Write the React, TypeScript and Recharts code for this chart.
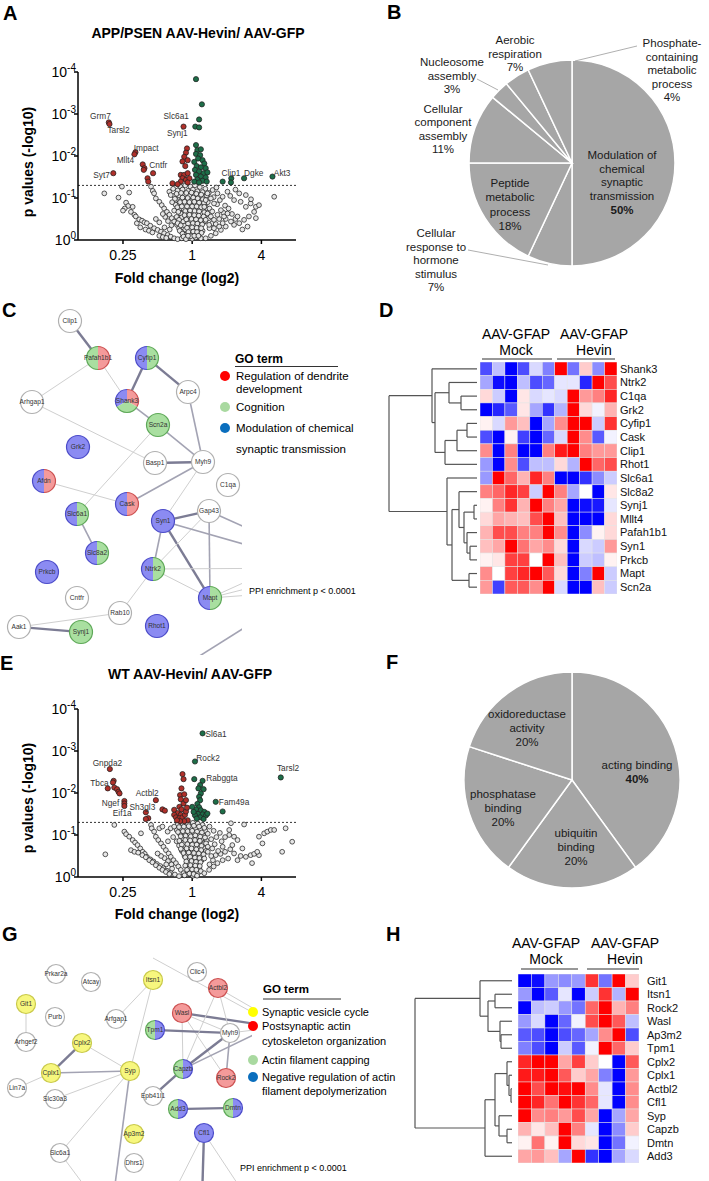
import React from "react";
import { ScatterChart, Scatter, XAxis, YAxis, ReferenceLine, PieChart, Pie, Cell } from "recharts";

const FONT = "'Liberation Sans', Arial, Helvetica, sans-serif";

// ---------- volcano plots (x = log2 fold change, y = -log10 p) ----------
const FC_TICKS = [-2, 0, 2];
const FC_TICK_LABELS = ["0.25", "1", "4"];
const P_TICKS = [0, 1, 2, 3, 4];
const P_THRESHOLD = 1.3;

const A_GRAY = [
  [-2.54, 1.11], [-2.03, 1.27], [-2.13, 1.01], [-1.82, 1.13], [-1.91, 0.89], [-1.85, 0.81], [-1.72, 0.79], [-1.77, 0.67],
  [-1.67, 0.6], [-1.63, 0.56], [-1.6, 0.4], [-1.53, 0.49], [-1.45, 0.46], [-1.38, 0.42], [-1.31, 0.4], [-1.21, 0.34],
  [-1.1, 0.28], [-1.0, 0.24], [-0.9, 0.2], [-0.81, 0.16], [-0.71, 0.12], [-0.62, 0.08], [-0.52, 0.04], [-0.42, 0.02],
  [-1.19, 1.27], [-1.14, 1.17], [-1.1, 1.11], [-1.05, 0.99], [-0.95, 0.91], [-0.88, 0.83], [-0.81, 0.75], [-0.73, 0.67],
  [-0.66, 0.6], [-0.59, 0.52], [-0.52, 0.44], [-0.44, 0.36], [-0.38, 0.28], [-0.31, 0.2], [-0.23, 0.12], [-0.15, 0.06],
  [-0.66, 1.15], [-0.52, 1.05], [-0.62, 1.07], [-0.47, 0.95], [-0.4, 0.86], [-0.35, 0.75], [-0.28, 0.65], [-0.23, 0.56],
  [-0.18, 0.44], [-0.13, 0.32], [-0.09, 0.2], [-1.5, 0.3], [-1.35, 0.25], [-1.25, 0.22], [-1.15, 0.18], [-0.95, 0.1],
  [-0.85, 0.07], [-0.75, 0.05], [-1.95, 0.75], [-2.0, 0.7],
  [-0.35, 1.28], [-0.2, 1.3], [-0.05, 1.27], [0.08, 1.3], [0.22, 1.26], [0.38, 1.22],
  [-0.42, 1.18], [-0.28, 1.2], [-0.12, 1.17], [0.02, 1.2], [0.15, 1.16], [0.3, 1.14], [0.48, 1.12],
  [-0.38, 1.06], [-0.22, 1.08], [-0.08, 1.05], [0.06, 1.08], [0.2, 1.04], [0.35, 1.02],
  [-0.3, 0.96], [-0.15, 0.97], [0.0, 0.95], [0.12, 0.97], [0.27, 0.93], [0.45, 0.9],
  [-0.48, 0.84], [-0.2, 0.86], [-0.06, 0.85], [0.08, 0.86], [0.22, 0.84], [0.36, 0.82],
  [-0.25, 0.74], [-0.1, 0.76], [0.03, 0.74], [0.16, 0.76], [0.3, 0.72],
  [-0.33, 0.63], [-0.16, 0.66], [-0.02, 0.64], [0.1, 0.66], [0.24, 0.63], [0.4, 0.6],
  [-0.3, 0.54], [-0.12, 0.55], [0.0, 0.56], [0.14, 0.54], [0.28, 0.52],
  [-0.26, 0.44], [-0.07, 0.46], [0.06, 0.44], [0.2, 0.45], [0.33, 0.42],
  [-0.22, 0.34], [-0.04, 0.35], [0.1, 0.34], [0.24, 0.33],
  [-0.2, 0.25], [-0.06, 0.24], [0.05, 0.26], [0.16, 0.24], [0.3, 0.22],
  [-0.14, 0.15], [-0.02, 0.14], [0.08, 0.16], [0.2, 0.13],
  [-0.08, 0.05], [0.0, 0.03], [0.1, 0.06], [0.25, 0.04], [-0.3, 0.04],
  [-0.55, 1.22], [-0.45, 1.1], [-0.5, 0.98], [-0.58, 0.9], [-0.43, 0.78], [-0.52, 0.7], [-0.4, 0.67], [-0.45, 0.55],
  [-0.38, 0.48], [-0.42, 0.4], [-0.33, 0.35], [-0.36, 0.22], [-0.28, 0.15], [-0.25, 0.08], [-0.18, 0.02],
  [-0.32, 1.12], [-0.17, 1.12], [-0.02, 1.13], [0.12, 1.1], [0.26, 1.08], [0.42, 1.06],
  [-0.28, 1.01], [-0.13, 1.0], [0.03, 1.01], [0.16, 0.99], [0.31, 0.97],
  [-0.35, 0.9], [-0.22, 0.91], [-0.08, 0.9], [0.06, 0.91], [0.2, 0.89], [0.34, 0.88],
  [-0.3, 0.8], [-0.15, 0.8], [0.0, 0.8], [0.13, 0.8], [0.26, 0.78], [0.42, 0.76],
  [-0.2, 0.69], [-0.06, 0.7], [0.07, 0.69], [0.2, 0.68], [0.35, 0.66],
  [-0.22, 0.59], [-0.08, 0.6], [0.06, 0.59], [0.19, 0.58], [0.33, 0.56],
  [-0.17, 0.49], [-0.02, 0.5], [0.11, 0.49], [0.25, 0.47], [0.38, 0.45],
  [-0.12, 0.39], [0.02, 0.4], [0.15, 0.39], [0.29, 0.37],
  [-0.15, 0.29], [0.0, 0.3], [0.13, 0.29], [0.26, 0.28],
  [-0.11, 0.19], [0.03, 0.2], [0.14, 0.19], [0.27, 0.17],
  [-0.04, 0.09], [0.06, 0.1], [0.18, 0.1], [-0.12, 0.1],
  [0.5, 0.75], [0.58, 0.68], [0.48, 0.52], [0.58, 0.4], [0.5, 0.28], [0.68, 0.38], [0.78, 0.5], [0.72, 0.85],
  [0.62, 1.02], [0.8, 0.95], [0.95, 0.82], [1.05, 0.75], [1.15, 0.62], [1.25, 0.5], [0.97, 0.5], [0.9, 0.65],
  [-0.6, 0.35], [-0.7, 0.45], [-0.78, 0.55], [-0.85, 0.62], [-0.65, 0.25], [-0.8, 0.3], [-0.95, 0.42], [-1.05, 0.5],
  [0.59, 1.19], [0.73, 1.11], [0.88, 1.03], [1.02, 1.15], [1.1, 1.05], [1.21, 0.95], [1.36, 1.11], [1.55, 1.07],
  [1.4, 0.91], [1.55, 0.79], [1.69, 0.87], [1.84, 0.79], [1.93, 0.83], [1.79, 0.67], [1.64, 0.56], [1.5, 0.48],
  [1.36, 0.4], [1.21, 0.36], [2.37, 1.03], [1.6, 0.32], [1.84, 0.52], [1.31, 0.56], [1.12, 0.44], [0.97, 0.32],
  [0.83, 0.24], [0.68, 0.16], [0.54, 0.1], [0.39, 0.04], [0.44, 0.63], [0.54, 0.56], [0.63, 0.48], [0.73, 0.6],
  [0.83, 0.71], [0.92, 0.56], [1.02, 0.63], [0.88, 0.4], [0.78, 0.32], [0.63, 0.28], [0.49, 0.36], [0.39, 0.48],
  [0.35, 0.79], [0.39, 0.95], [0.44, 1.11], [0.63, 0.87], [0.54, 0.99], [0.7, 1.25], [1.25, 1.2], [1.7, 0.97], [1.45, 0.25],
];
const A_DOWN = [
  [-2.41, 2.8], [-2.39, 2.76], [-2.28, 1.59], [-1.64, 2.09], [-1.67, 2.04], [-1.43, 1.8], [-1.38, 1.71], [-1.4, 1.67],
  [-1.13, 1.59], [-1.29, 1.47], [-1.27, 1.39], [-0.57, 1.35], [-0.25, 2.7], [-0.15, 2.18], [-0.18, 2.08], [-0.23, 1.98],
  [-0.13, 1.9], [-0.28, 1.87], [-0.2, 1.76], [-0.33, 1.55], [-0.23, 1.55], [-0.13, 1.59], [-0.28, 1.47], [-0.18, 1.43],
  [-0.08, 1.47], [-0.33, 1.39], [-0.13, 1.37], [-0.42, 1.33],
];
const A_UP = [
  [0.11, 3.83], [0.28, 3.23], [0.2, 2.87], [0.09, 2.7], [0.2, 2.68], [0.11, 2.26], [0.15, 2.14], [0.25, 2.16],
  [0.11, 2.05], [0.23, 2.02], [0.17, 1.94], [0.3, 1.9], [0.06, 1.86], [0.35, 1.82], [0.13, 1.76], [0.25, 1.73],
  [0.39, 1.71], [0.08, 1.67], [0.2, 1.63], [0.33, 1.59], [0.44, 1.61], [0.11, 1.55], [0.25, 1.51], [0.39, 1.49],
  [0.15, 1.44], [0.3, 1.41], [0.06, 1.39], [0.2, 1.37], [0.42, 1.39], [0.88, 1.39], [1.13, 1.47], [1.12, 1.37],
  [1.5, 1.47], [2.32, 1.51],
];
const A_LABELS: [string, number, number][] = [
  ["Grm7", -2.65, 2.95], ["Tarsl2", -2.13, 2.62], ["Impact", -1.33, 2.19], ["Mllt4", -1.93, 1.9], ["Cntfr", -0.98, 1.79],
  ["Syt7", -2.62, 1.55], ["Slc6a1", -0.46, 2.95], ["Synj1", -0.43, 2.55], ["Clip1", 1.12, 1.6], ["Dgke", 1.78, 1.6],
  ["Akt3", 2.6, 1.6],
];

const E_GRAY = [
  [-2.51, 0.54], [-2.25, 1.24], [-1.96, 1.08], [-1.91, 1.02], [-1.82, 0.96], [-1.72, 0.88], [-1.65, 0.82], [-1.58, 0.76],
  [-1.5, 0.68], [-1.43, 0.6], [-1.37, 0.55], [-1.31, 0.48], [-1.21, 0.42], [-1.12, 0.37], [-1.02, 0.31], [-0.92, 0.26],
  [-0.83, 0.21], [-0.73, 0.15], [-0.62, 0.1], [-0.5, 0.06], [-0.38, 0.02],
  [-1.77, 0.64], [-1.67, 0.6], [-1.56, 0.58], [-1.44, 0.52], [-1.34, 0.47], [-1.24, 0.4], [-1.15, 0.35], [-1.05, 0.28],
  [-0.95, 0.22], [-0.86, 0.17], [-0.76, 0.12], [-0.66, 0.07],
  [-1.19, 1.24], [-1.17, 1.16], [-1.1, 1.08], [-1.05, 0.96], [-0.98, 0.88], [-0.9, 0.8], [-0.83, 0.72], [-0.76, 0.64],
  [-0.68, 0.56], [-0.62, 0.48], [-0.54, 0.4], [-0.47, 0.33], [-0.4, 0.25], [-0.33, 0.17], [-0.25, 0.09],
  [-1.48, 1.04], [-0.95, 1.16], [-0.86, 1.2], [-0.71, 1.08], [-0.62, 1.16], [-0.55, 0.95], [-0.45, 0.85], [-0.38, 0.75],
  [-0.3, 0.62], [-0.22, 0.5], [-0.15, 0.36], [-0.1, 0.22],
  [-0.42, 1.25], [-0.28, 1.28], [-0.12, 1.26], [0.02, 1.29], [0.16, 1.27], [0.3, 1.24],
  [-0.45, 1.12], [-0.32, 1.15], [-0.18, 1.14], [-0.05, 1.17], [0.1, 1.15], [0.24, 1.13], [0.38, 1.1],
  [-0.35, 1.02], [-0.22, 1.04], [-0.08, 1.03], [0.05, 1.06], [0.18, 1.02], [0.32, 0.99],
  [-0.28, 0.92], [-0.14, 0.94], [0.0, 0.92], [0.13, 0.95], [0.27, 0.9], [0.42, 0.86],
  [-0.24, 0.82], [-0.1, 0.83], [0.04, 0.81], [0.18, 0.84], [0.33, 0.78],
  [-0.2, 0.72], [-0.06, 0.73], [0.08, 0.71], [0.22, 0.7], [0.36, 0.68],
  [-0.26, 0.62], [-0.12, 0.62], [0.02, 0.63], [0.15, 0.61], [0.29, 0.58],
  [-0.18, 0.52], [-0.04, 0.53], [0.1, 0.51], [0.24, 0.5],
  [-0.14, 0.42], [0.0, 0.43], [0.13, 0.41], [0.27, 0.4],
  [-0.1, 0.32], [0.04, 0.33], [0.17, 0.31],
  [-0.08, 0.22], [0.06, 0.23], [0.2, 0.2],
  [-0.04, 0.12], [0.08, 0.13], [0.16, 0.08], [-0.15, 0.06], [0.02, 0.03],
  [-0.52, 1.2], [-0.38, 1.19], [-0.24, 1.2], [-0.1, 1.21], [0.05, 1.22], [0.2, 1.2], [0.35, 1.17],
  [-0.41, 1.07], [-0.27, 1.09], [-0.13, 1.09], [0.0, 1.1], [0.14, 1.08], [0.28, 1.06], [0.45, 1.03],
  [-0.33, 0.97], [-0.19, 0.98], [-0.04, 0.97], [0.09, 0.99], [0.23, 0.96], [0.37, 0.94],
  [-0.37, 0.86], [-0.2, 0.88], [-0.06, 0.87], [0.08, 0.88], [0.22, 0.86], [0.4, 0.8],
  [-0.3, 0.77], [-0.14, 0.78], [0.0, 0.77], [0.13, 0.77], [0.27, 0.74], [0.45, 0.72],
  [-0.33, 0.67], [-0.16, 0.68], [-0.02, 0.68], [0.12, 0.66], [0.26, 0.64], [0.4, 0.62],
  [-0.25, 0.57], [-0.1, 0.58], [0.05, 0.57], [0.19, 0.56], [0.33, 0.54],
  [-0.2, 0.47], [-0.06, 0.48], [0.08, 0.46], [0.21, 0.45], [0.35, 0.44],
  [-0.17, 0.37], [-0.02, 0.38], [0.11, 0.36], [0.24, 0.35],
  [-0.2, 0.27], [-0.05, 0.28], [0.09, 0.27], [0.22, 0.26],
  [-0.15, 0.17], [0.0, 0.18], [0.12, 0.17], [0.25, 0.14],
  [-0.08, 0.08], [0.04, 0.07], [0.14, 0.03], [-0.22, 0.04],
  [-0.6, 0.3], [-0.7, 0.38], [-0.8, 0.45], [-0.58, 0.2], [-0.75, 0.3], [-0.9, 0.5], [-1.0, 0.56], [-0.7, 0.85],
  [0.5, 0.3], [0.6, 0.4], [0.68, 0.52], [0.82, 0.55], [0.95, 0.6], [1.1, 0.66], [0.58, 0.68], [0.7, 0.95], [0.85, 0.85],
  [1.12, 1.28], [1.5, 1.25], [1.07, 1.12], [1.21, 0.96], [1.07, 1.0], [0.88, 0.72], [1.16, 0.76], [1.31, 0.88],
  [1.45, 0.68], [1.21, 0.56], [1.04, 0.44], [0.88, 0.4], [0.73, 0.33], [0.62, 0.25], [0.49, 0.17], [0.35, 0.09],
  [1.4, 0.5], [1.55, 0.48], [1.69, 0.52], [1.79, 0.55], [1.93, 0.52], [1.73, 0.33], [2.03, 0.8], [1.93, 0.96],
  [2.08, 1.04], [2.17, 1.08], [2.27, 1.12], [2.37, 1.12], [2.7, 1.16], [2.6, 0.6], [2.89, 0.84], [1.88, 0.6],
  [1.31, 0.4], [0.55, 0.9], [0.65, 0.78], [0.75, 0.62], [0.62, 1.1], [0.5, 1.2], [0.95, 0.95], [0.8, 1.05],
  [0.45, 0.6], [0.55, 0.5],
];
const E_DOWN = [
  [-2.38, 2.57], [-2.27, 2.29], [-2.29, 2.25], [-2.44, 2.11], [-2.25, 2.13], [-2.17, 2.09], [-2.13, 2.03], [-2.1, 1.99],
  [-1.96, 1.81], [-1.96, 1.75], [-1.96, 1.69], [-1.05, 1.83], [-1.34, 1.54], [-1.27, 1.4], [-1.34, 1.38], [-0.86, 1.61],
  [-0.79, 1.58], [-0.28, 2.45], [-0.25, 2.33], [-0.31, 2.11], [-0.35, 1.95], [-0.23, 1.97], [-0.33, 1.85], [-0.25, 1.75],
  [-0.37, 1.67], [-0.31, 1.61], [-0.52, 1.6], [-0.42, 1.52], [-0.33, 1.48], [-0.52, 1.48], [-0.47, 1.42], [-0.37, 1.4],
  [-0.28, 1.42], [-0.21, 1.48], [-0.18, 1.56], [-0.15, 1.65], [-0.13, 1.35], [-0.23, 1.33], [-0.35, 1.33], [-0.44, 1.35],
  [-0.18, 1.83],
];
const E_UP = [
  [0.3, 3.42], [0.08, 2.75], [0.06, 2.33], [0.3, 2.29], [0.23, 2.19], [0.18, 2.11], [0.33, 2.09], [0.25, 1.99],
  [0.2, 1.91], [0.23, 1.83], [0.68, 1.79], [0.88, 1.56], [2.56, 2.37], [0.15, 1.74], [0.2, 1.66], [0.11, 1.61],
  [0.25, 1.59], [0.35, 1.55], [0.17, 1.5], [0.3, 1.49], [0.08, 1.47], [0.4, 1.47], [0.23, 1.42], [0.13, 1.39],
  [0.44, 1.51], [0.04, 1.55], [0.0, 1.67], [0.33, 1.38],
];
const E_LABELS: [string, number, number][] = [
  ["Sl6a1", 0.69, 3.4], ["Rock2", 0.46, 2.83], ["Rabggta", 0.86, 2.36], ["Tarsl2", 2.77, 2.6], ["Fam49a", 1.21, 1.79],
  ["Gnpda2", -2.45, 2.71], ["Tbca", -2.68, 2.24], ["Actbl2", -1.3, 2.0], ["Ngef", -2.36, 1.76], ["Sh3gl3", -1.44, 1.67],
  ["Eif1a", -2.02, 1.52],
];

// ---------- pies ----------
const B_NAMES = [
  "Modulation of chemical synaptic transmission", "Cellular response to hormone stimulus", "Peptide metabolic process",
  "Cellular component assembly", "Nucleosome assembly", "Phosphate-containing metabolic process", "Aerobic respiration",
];
const B_VALUES = [50, 7, 18, 11, 3, 4, 7];
const B_LINES = [
  ["Modulation of", "chemical", "synaptic", "transmission"], ["Cellular", "response to", "hormone", "stimulus"],
  ["Peptide", "metabolic", "process"], ["Cellular", "component", "assembly"], ["Nucleosome", "assembly"],
  ["Phosphate-", "containing", "metabolic", "process"], ["Aerobic", "respiration"],
];
const F_NAMES = ["acting binding", "ubiquitin binding", "phosphatase binding", "oxidoreductase activity"];
const F_VALUES = [40, 20, 20, 20];
const F_LINES = [["acting binding"], ["ubiquitin", "binding"], ["phosphatase", "binding"], ["oxidoreductase", "activity"]];

// ---------- heatmaps ----------
const D_GENES = ["Shank3", "Ntrk2", "C1qa", "Grk2", "Cyfip1", "Cask", "Clip1", "Rhot1", "Slc6a1", "Slc8a2", "Synj1", "Mllt4", "Pafah1b1", "Syn1", "Prkcb", "Mapt", "Scn2a"];
const D_VALUES = [
  [-0.7, -0.25, -1, -0.7, -0.15, -0.5, 1, -0.55, 0.2, -0.45, 1],
  [-0.35, -0.95, -1, -0.25, -0.7, -0.6, -0.1, -0.1, -0.85, 1, 0.7],
  [0.15, -0.2, -1, 0.1, -0.15, -0.1, -0.15, 1, 0.4, 0.5, 0.85],
  [-1, -0.85, -0.65, 0.1, -0.35, -0.8, -0.3, 1, 0.15, -0.05, 0.3],
  [0.05, -0.15, 0.4, 0.25, -1, -0.35, 0.45, 1, 1, -0.2, 0.8],
  [-0.7, -1, 0.05, -0.75, -1, -0.6, -0.15, 1, 0.45, -0.65, -0.05],
  [0.45, -1, 0.5, -1, -1, 0.5, 0.9, 1, 0.5, 0.4, 0.4],
  [-0.4, -1, 0.45, -0.7, -0.25, -0.25, 0.15, -0.3, 1, 0.6, 0.7],
  [-0.4, 1, 0.6, 0.3, 0.85, 0.5, -1, -1, -0.8, -0.45, -0.2],
  [0.5, 0.6, 0.85, 0.75, -0.2, 1, 0.5, -0.35, 0, -1, 0.1],
  [0.05, 0.5, 0.8, 0.3, 1, 0.5, 0.35, -1, -0.95, -0.9, -0.1],
  [0.15, 0.35, 0.3, 0.25, 0.7, 1, 0.25, -1, -1, -1, 0.15],
  [0.3, 0.7, 0.7, 0.5, 0.5, 1, 0.45, -1, -0.45, 0.05, 0.15],
  [0.25, 0.35, 1, 0.55, 0.35, 0.45, 0.15, -1, -0.15, -0.2, 0.4],
  [0.05, 0.1, 0.75, 0.75, 0, 1, 0.25, -1, -0.2, -0.25, 0.05],
  [0.45, 0, 0.75, 0.85, 1, 0.65, 0.15, -1, -0.5, 1, -0.2],
  [0.4, -0.75, 0.65, 0.65, 0.45, 1, -0.15, -1, -1, 0.25, -0.2],
];
// merges: [childA, childB, height]; leaves are 0..n-1, merged nodes n, n+1, ...
const D_TREE = [
  [2, 3, 16], [1, 17, 28], [4, 5, 10], [19, 6, 20], [20, 7, 32], [18, 21, 42], [0, 22, 45],
  [10, 11, 3], [13, 14, 7], [12, 25, 10], [24, 26, 13], [9, 27, 18], [15, 16, 8], [28, 29, 25], [8, 30, 30], [23, 31, 88],
];
const H_GENES = ["Git1", "Itsn1", "Rock2", "Wasl", "Ap3m2", "Tpm1", "Cplx2", "Cplx1", "Actbl2", "Cfl1", "Syp", "Capzb", "Dmtn", "Add3"];
const H_VALUES = [
  [-1, -0.95, -0.4, -0.45, -0.4, 0.8, -0.55, 1, 0.2],
  [-0.4, -1, -0.65, -0.1, -1, -0.2, 0.8, -0.3, 1],
  [-1, -0.25, -0.2, -0.4, -0.55, 0.6, 1, 0.3, 0.5],
  [-0.4, -0.15, -1, -0.6, -0.05, 0.7, 1, 0.65, -0.25],
  [-0.65, -0.7, -1, -0.7, -0.6, -0.35, 0.45, 1, -0.7],
  [-0.5, -0.7, -1, -0.2, -0.65, -0.05, 1, 0.6, 0.2],
  [0.85, 1, 1, 0.35, 0.75, 0.2, 0, -1, 0.65],
  [0.9, 0.9, 1, 0.65, 0.2, 0.35, -0.5, -1, 0.4],
  [1, 0.7, 1, 0.95, 1, 0.45, -0.1, -1, 0.45],
  [1, 0.85, 0.55, 1, 0.8, 0.6, -0.1, -1, 0.45],
  [1, 0.45, 0.5, 0.4, 0.7, 0.35, -1, -0.35, 0.35],
  [0.3, 0.1, 0.25, 1, 0.5, -0.1, -1, -0.45, 0.2],
  [0.05, 0.55, 0.05, 1, 0.15, 0.1, -1, -0.55, -0.05],
  [0.35, 0.4, 0.25, -0.35, 1, -0.8, -1, -0.35, -0.15],
];
const H_TREE = [
  [1, 2, 17], [4, 5, 11], [3, 15, 12], [14, 16, 24], [0, 17, 32],
  [8, 9, 1], [7, 19, 3], [6, 20, 5], [11, 12, 5], [10, 22, 13], [21, 23, 17], [24, 13, 27], [18, 25, 97],
];

// ---------- networks (layout coords; terms: r/g/b/y = GO term membership) ----------
const C_NODES: [string, number, number, string[]][] = [
  ["Clip1", 70, 31, []], ["Pafah1b1", 98, 68, ["g", "r"]], ["Cyfip1", 147, 68, ["b", "g"]], ["Arhgap1", 32, 112, []],
  ["Shank3", 127, 111, ["b", "r", "g"]], ["Arpc4", 188, 102, []], ["Scn2a", 158, 135, ["g"]], ["Grk2", 78, 157, ["b"]],
  ["Basp1", 155, 173, []], ["Myh9", 203, 172, []], ["Afdn", 44, 191, ["b", "r"]], ["C1qa", 228, 195, []],
  ["Cask", 127, 214, ["b", "r"]], ["Slc6a1", 77, 224, ["b", "g"]], ["Gap43", 209, 221, []], ["Syn1", 163, 231, ["b"]],
  ["Slc8a2", 97, 263, ["b", "g"]], ["Ntrk2", 153, 279, ["b", "g"]], ["Prkcb", 47, 282, ["b"]], ["Cntfr", 77, 308, []],
  ["Mapt", 210, 308, ["b", "g"]], ["Rab10", 120, 323, []], ["Aak1", 19, 337, []], ["Synj1", 81, 342, ["g"]],
  ["Rhot1", 157, 336, ["b"]],
];
const C_OFF: [string, number, number][] = [
  ["o1", 320, 276], ["o2", 320, 271], ["o3", 320, 278], ["o4", 320, 258], ["o5", 320, 280], ["o6", 320, 300],
  ["d1", 190, 372], ["d2", 320, 290],
];
const C_EDGES: [string, string, number][] = [
  ["Clip1", "Pafah1b1", 3], ["Pafah1b1", "Arhgap1", 1], ["Pafah1b1", "Shank3", 1], ["Cyfip1", "Shank3", 3],
  ["Cyfip1", "Arpc4", 3], ["Shank3", "Scn2a", 2], ["Arhgap1", "Basp1", 1], ["Scn2a", "Myh9", 2], ["Scn2a", "Slc6a1", 1],
  ["Basp1", "Myh9", 3], ["Arpc4", "Myh9", 2], ["Afdn", "Cask", 1], ["Cask", "Myh9", 2], ["Myh9", "Syn1", 1],
  ["Slc6a1", "Slc8a2", 2], ["Syn1", "Gap43", 3], ["Syn1", "Ntrk2", 2], ["Syn1", "Mapt", 3], ["Gap43", "Mapt", 2],
  ["Gap43", "Ntrk2", 1], ["Ntrk2", "Mapt", 1], ["Syn1", "o1", 2], ["Gap43", "o2", 2], ["Ntrk2", "o3", 1],
  ["Mapt", "o4", 1], ["Mapt", "o5", 1], ["Mapt", "o6", 1], ["Ntrk2", "Rab10", 1], ["Rab10", "Aak1", 1],
  ["Aak1", "Synj1", 3], ["d1", "d2", 2],
];
const G_NODES: [string, number, number, string[]][] = [
  ["Prkar2a", 56, 24, []], ["Atcay", 91, 32, []], ["Itsn1", 153, 30, ["y"]], ["Clic4", 197, 22, []],
  ["Actbl2", 218, 38, ["r"]], ["Git1", 26, 54, ["y"]], ["Purb", 55, 67, []], ["Arfgap1", 116, 69, []],
  ["Wasl", 182, 63, ["r"]], ["Tpm1", 155, 80, ["g", "b"]], ["Myh9", 230, 83, []], ["Arhgef2", 26, 92, []],
  ["Cplx2", 82, 93, ["y"]], ["Capzb", 183, 119, ["g", "b"]], ["Rock2", 226, 128, ["r"]], ["Cplx1", 51, 123, ["y"]],
  ["Syp", 130, 121, ["y"]], ["Lin7a", 17, 138, []], ["Epb41l1", 153, 146, []], ["Slc30a3", 55, 149, []],
  ["Add3", 178, 159, ["g", "b"]], ["Dmtn", 233, 158, ["g", "b"]], ["Cfl1", 204, 183, ["b"]], ["Ap3m2", 134, 184, ["y"]],
  ["Slc6a1", 60, 203, []], ["Dhrs1", 134, 213, []],
];
const G_OFF: [string, number, number][] = [
  ["s1", 113, 250], ["s2", 95, 250], ["c1", 202, 250], ["c2", 170, 250], ["c3", 245, 245], ["w1", 270, 76],
  ["a1", 270, 68], ["cz", 270, 77], ["m1", 270, 78], ["L1", 153, 8], ["L2", 270, 72],
];
const G_EDGES: [string, string, number][] = [
  ["Git1", "Arhgef2", 1], ["Cplx2", "Cplx1", 3], ["Cplx1", "Syp", 2], ["Cplx2", "Syp", 1], ["Cplx1", "Lin7a", 1],
  ["Syp", "Slc30a3", 1], ["Syp", "Slc6a1", 1], ["Syp", "Itsn1", 1], ["Itsn1", "Arfgap1", 1], ["Syp", "s1", 2],
  ["Slc6a1", "s2", 1], ["Wasl", "Myh9", 1], ["Wasl", "w1", 3], ["Wasl", "Capzb", 1], ["Wasl", "Rock2", 1],
  ["Tpm1", "Myh9", 3], ["Actbl2", "Capzb", 1], ["Actbl2", "Myh9", 1], ["Actbl2", "a1", 1], ["Capzb", "Myh9", 3],
  ["Capzb", "cz", 2], ["Capzb", "Epb41l1", 3], ["Myh9", "Rock2", 2], ["Add3", "Dmtn", 3], ["Cfl1", "c1", 3],
  ["Cfl1", "c2", 1], ["Cfl1", "c3", 1], ["L1", "L2", 1], ["Myh9", "m1", 1],
];

// ---------- styles ----------
const TERM: Record<string, [string, string]> = {
  b: ["#8b8bf2", "#4b4bc8"],
  g: ["#a9dfa0", "#5ea858"],
  r: ["#f49a9a", "#cc5050"],
  y: ["#f7f77e", "#c9c94a"],
};
const EDGE_STYLE: Record<number, [string, number]> = { 1: ["#cfcfcf", 1], 2: ["#a3a3b3", 1.6], 3: ["#7c7c94", 2.4] };

const toPts = (arr: number[][]) => arr.map(([x, y]) => ({ x, y }));

const dot = (fill: string, r: number) => (p: any) =>
  p.cx == null ? <g /> : <circle cx={p.cx} cy={p.cy} r={r} fill={fill} stroke="#222" strokeWidth={0.75} />;

const PowTick = (p: any) => {
  const v = p.payload.value;
  return (
    <text x={p.x + 2} y={p.y + 5} textAnchor="end" fontSize={14} fontFamily={FONT} fill="#000">
      10<tspan dy={-6} fontSize={10}>{v === 0 ? "0" : `-${v}`}</tspan>
    </text>
  );
};

function Volcano({ top, height, marginTop, gray, down, up, labels }: any) {
  const lab = labels.map(([name, x, y]: any) => ({ name, x, y }));
  return (
    <div style={{ position: "absolute", left: 0, top }}>
      <ScatterChart width={330} height={height} margin={{ top: marginTop, right: 34, bottom: 20, left: 28 }}>
        <XAxis type="number" dataKey="x" domain={[-3.3, 3]} ticks={FC_TICKS} interval={0}
          tickFormatter={(v: number) => FC_TICK_LABELS[FC_TICKS.indexOf(v)]}
          axisLine={{ stroke: "#000", strokeWidth: 1.5 }} tickLine={{ stroke: "#000", strokeWidth: 1.5 }}
          tickSize={4} tickMargin={6} height={30} tick={{ fontSize: 14, fill: "#000", fontFamily: FONT }} />
        <YAxis type="number" dataKey="y" domain={[0, 4]} ticks={P_TICKS} interval={0} width={50}
          axisLine={{ stroke: "#000", strokeWidth: 1.5 }} tickLine={{ stroke: "#000", strokeWidth: 1.5 }}
          tickSize={4} tickMargin={0} tick={PowTick} />
        <ReferenceLine y={P_THRESHOLD} stroke="#333" strokeDasharray="2 2" />
        <Scatter data={toPts(gray)} shape={dot("#e6e6e6", 2.4)} isAnimationActive={false} />
        <Scatter data={toPts(down)} shape={dot("#b0302a", 2.6)} isAnimationActive={false} />
        <Scatter data={toPts(up)} shape={dot("#1d6e48", 2.6)} isAnimationActive={false} />
        <Scatter data={lab} isAnimationActive={false}
          shape={(p: any) => (
            <text x={p.cx} y={p.cy + 3} textAnchor="middle" fontSize={8.3} fill="#333" fontFamily={FONT}>{p.payload.name}</text>
          )} />
      </ScatterChart>
    </div>
  );
}

const nodeShape = (r: number) => (p: any) => {
  const { cx, cy, payload } = p;
  if (cx == null) return <g />;
  const t: string[] = payload.terms;
  let body: any;
  if (t.length === 0) body = <circle cx={cx} cy={cy} r={r} fill="#fff" stroke="#b0b0b0" strokeWidth={1.2} />;
  else if (t.length === 1) body = <circle cx={cx} cy={cy} r={r} fill={TERM[t[0]][0]} stroke={TERM[t[0]][1]} strokeWidth={1.2} />;
  else {
    const start = t.length === 2 ? 90 : 150;
    const step = 360 / t.length;
    body = t.map((k, i) => {
      const a0 = ((start + i * step) * Math.PI) / 180;
      const a1 = ((start + (i + 1) * step) * Math.PI) / 180;
      const x0 = cx + r * Math.cos(a0), y0 = cy + r * Math.sin(a0);
      const x1 = cx + r * Math.cos(a1), y1 = cy + r * Math.sin(a1);
      return (
        <g key={i}>
          <path d={`M${cx},${cy} L${x0},${y0} A${r},${r} 0 0 1 ${x1},${y1} Z`} fill={TERM[k][0]} />
          <path d={`M${x0},${y0} A${r},${r} 0 0 1 ${x1},${y1}`} fill="none" stroke={TERM[k][1]} strokeWidth={1.2} />
        </g>
      );
    });
  }
  return (
    <g>
      {body}
      <text x={cx} y={cy + 2.3} textAnchor="middle" fontSize={6.6} fill="#333" fontFamily={FONT}>{payload.name}</text>
    </g>
  );
};

function Network({ left, top, width, height, nodes, off, edges, r }: any) {
  const pts = nodes.map(([name, x, y, terms]: any) => ({ name, x, y, terms }));
  const pos: Record<string, { x: number; y: number; r: number }> = {};
  pts.forEach((n: any) => (pos[n.name] = { x: n.x, y: n.y, r }));
  off.forEach(([name, x, y]: any) => (pos[name] = { x, y, r: 0 }));
  return (
    <div style={{ position: "absolute", left, top }}>
      <ScatterChart width={width} height={height} margin={{ top: 0, right: 0, bottom: 0, left: 0 }}>
        <XAxis type="number" dataKey="x" domain={[0, width]} hide allowDataOverflow />
        <YAxis type="number" dataKey="y" domain={[0, height]} reversed hide allowDataOverflow />
        {edges.map(([a, b, w]: any, i: number) => {
          const A = pos[a], B = pos[b];
          const dx = B.x - A.x, dy = B.y - A.y, L = Math.hypot(dx, dy);
          const seg = [
            { x: A.x + (dx * A.r) / L, y: A.y + (dy * A.r) / L },
            { x: B.x - (dx * B.r) / L, y: B.y - (dy * B.r) / L },
          ];
          return <ReferenceLine key={i} segment={seg} ifOverflow="hidden" stroke={EDGE_STYLE[w][0]} strokeWidth={EDGE_STYLE[w][1]} />;
        })}
        <Scatter data={pts} shape={nodeShape(r)} isAnimationActive={false} />
      </ScatterChart>
    </div>
  );
}

const heat = (v: number) => {
  const k = Math.round(255 * (1 - Math.min(1, Math.abs(v))));
  return v >= 0 ? `rgb(255,${k},${k})` : `rgb(${k},${k},255)`;
};

function Heatmap({ left, top, w, h, genes, values, gap }: any) {
  const nc = values[0].length, nr = genes.length;
  const cw = w / nc, ch = h / nr;
  const cells = values.flatMap((row: number[], r: number) => row.map((v, c) => ({ x: c + 0.5, y: r + 0.5, v })));
  return (
    <div style={{ position: "absolute", left, top }}>
      <ScatterChart width={w + 70} height={h} margin={{ top: 0, right: 0, bottom: 0, left: 0 }}>
        <XAxis type="number" dataKey="x" domain={[0, nc]} hide allowDataOverflow />
        <YAxis type="number" dataKey="y" domain={[0, nr]} reversed orientation="right" width={70} allowDataOverflow
          ticks={genes.map((_: string, i: number) => i + 0.5)} interval={0}
          tickFormatter={(v: number) => genes[Math.floor(v)]} axisLine={false} tickLine={false} tickSize={0}
          tickMargin={gap} tick={{ fontSize: 11, fill: "#111", fontFamily: FONT, textAnchor: "start" }} />
        <Scatter data={cells} isAnimationActive={false}
          shape={(p: any) => (
            <rect x={p.cx - cw / 2} y={p.cy - ch / 2} width={cw} height={ch} fill={heat(p.payload.v)} stroke="#e4e4e4" strokeWidth={0.5} />
          )} />
      </ScatterChart>
    </div>
  );
}

function Dendrogram({ left, top, width, height, leaves, merges }: any) {
  const ys: number[] = Array.from({ length: leaves }, (_, i) => i + 0.5);
  const hs: number[] = Array(leaves).fill(0);
  const segs: { x: number; y: number }[][] = [];
  merges.forEach(([a, b, h]: number[]) => {
    segs.push([{ x: hs[a], y: ys[a] }, { x: h, y: ys[a] }]);
    segs.push([{ x: hs[b], y: ys[b] }, { x: h, y: ys[b] }]);
    segs.push([{ x: h, y: ys[a] }, { x: h, y: ys[b] }]);
    ys.push((ys[a] + ys[b]) / 2);
    hs.push(h);
  });
  const leafPts = ys.slice(0, leaves).map((y) => ({ x: 0, y }));
  return (
    <div style={{ position: "absolute", left, top }}>
      <ScatterChart width={width} height={height} margin={{ top: 0, right: 0, bottom: 0, left: 0 }}>
        <XAxis type="number" dataKey="x" domain={[0, width]} reversed hide allowDataOverflow />
        <YAxis type="number" dataKey="y" domain={[0, leaves]} reversed hide allowDataOverflow />
        {segs.map((s, i) => (
          <ReferenceLine key={i} segment={s} stroke="#555" strokeWidth={1.2} ifOverflow="visible" />
        ))}
        <Scatter data={leafPts} shape={() => <g />} isAnimationActive={false} />
      </ScatterChart>
    </div>
  );
}

// label layout for pies: [dx, first baseline dy, line height, leader line?] relative to pie centre
const B_LAYOUT: [number, number, number, number[] | null][] = [
  [50, -4, 13.7, null], [-136, 74, 13.5, [-104, 87, -24, 102]], [-62, 24, 14.3, null], [-129, -50, 13.3, null],
  [-120, -97, 13.5, [-95, -84, -74, -73]], [100, -116, 13.5, [65, -117, 3, -102]], [-57, -119, 13.5, null],
];
const F_LAYOUT: [number, number, number, number[] | null][] = [
  [65, -11, 14, null], [4, 57, 14, null], [-69, 18, 14, null], [-45, -62, 14, null],
];

const pieLabel = (cx: number, cy: number, lines: string[][], values: number[], layout: any[]) => (p: any) => {
  const i = p.index;
  const [dx, dy, lh, leader] = layout[i];
  const max = Math.max(...values);
  const all = [...lines[i], `${values[i]}%`];
  return (
    <g>
      {leader && <line x1={cx + leader[0]} y1={cy + leader[1]} x2={cx + leader[2]} y2={cy + leader[3]} stroke="#9a9a9a" strokeWidth={0.8} />}
      {all.map((t, k) => (
        <text key={k} x={cx + dx} y={cy + dy + k * lh} textAnchor="middle" fontSize={11.5} fontFamily={FONT} fill="#1a1a1a"
          fontWeight={k === all.length - 1 && values[i] === max ? "bold" : "normal"}>{t}</text>
      ))}
    </g>
  );
};

function GoPie({ left, top, cx, cy, r, names, values, lines, layout }: any) {
  const data = names.map((name: string, i: number) => ({ name, value: values[i] }));
  return (
    <div style={{ position: "absolute", left, top }}>
      <PieChart width={349} height={300} margin={{ top: 0, right: 0, bottom: 0, left: 0 }}>
        <Pie data={data} dataKey="value" nameKey="name" cx={cx} cy={cy} outerRadius={r} startAngle={90} endAngle={-270}
          stroke="#fff" strokeWidth={1.5} isAnimationActive={false} labelLine={false}
          label={pieLabel(cx, cy, lines, values, layout)}>
          {data.map((_: any, i: number) => <Cell key={i} fill="#a6a6a6" />)}
        </Pie>
      </PieChart>
    </div>
  );
}

const Letter = ({ x, y, t }: any) => <text x={x} y={y} fontSize={20} fontWeight="bold" fill="#000">{t}</text>;

export default function App() {
  return (
    <div style={{ position: "absolute", left: 0, top: 0, width: 709, height: 1181, background: "#fff", overflow: "hidden", fontFamily: FONT }}>
      <Volcano top={0} height={290} marginTop={72} gray={A_GRAY} down={A_DOWN} up={A_UP} labels={A_LABELS} />
      <Volcano top={600} height={327} marginTop={109} gray={E_GRAY} down={E_DOWN} up={E_UP} labels={E_LABELS} />
      <GoPie left={360} top={0} cx={212} cy={163} r={103} names={B_NAMES} values={B_VALUES} lines={B_LINES} layout={B_LAYOUT} />
      <GoPie left={360} top={600} cx={212} cy={180} r={108} names={F_NAMES} values={F_VALUES} lines={F_LINES} layout={F_LAYOUT} />
      <Network left={0} top={290} width={242} height={365} nodes={C_NODES} off={C_OFF} edges={C_EDGES} r={11.5} />
      <Network left={0} top={950} width={252} height={231} nodes={G_NODES} off={G_OFF} edges={G_EDGES} r={9.5} />
      <Dendrogram left={385} top={362} width={92} height={232} leaves={D_GENES.length} merges={D_TREE} />
      <Heatmap left={480} top={362} w={137} h={232} genes={D_GENES} values={D_VALUES} gap={3} />
      <Dendrogram left={412} top={974} width={100} height={189} leaves={H_GENES.length} merges={H_TREE} />
      <Heatmap left={518} top={974} w={121} h={189} genes={H_GENES} values={H_VALUES} gap={8} />

      <svg width={709} height={1181} style={{ position: "absolute", left: 0, top: 0, pointerEvents: "none" }} fontFamily={FONT}>
        <Letter x={3} y={20} t="A" />
        <Letter x={387} y={19} t="B" />
        <Letter x={2} y={317} t="C" />
        <Letter x={379} y={317} t="D" />
        <Letter x={0} y={670} t="E" />
        <Letter x={386} y={669} t="F" />
        <Letter x={2} y={941} t="G" />
        <Letter x={386} y={941} t="H" />

        <text x={198} y={38} textAnchor="middle" fontSize={14} fontWeight="bold">APP/PSEN AAV-Hevin/ AAV-GFP</text>
        <text x={190} y={679} textAnchor="middle" fontSize={14} fontWeight="bold">WT AAV-Hevin/ AAV-GFP</text>
        <text transform="translate(33,162) rotate(-90)" textAnchor="middle" fontSize={14} fontWeight="bold">p values (-log10)</text>
        <text transform="translate(33,798) rotate(-90)" textAnchor="middle" fontSize={14} fontWeight="bold">p values (-log10)</text>
        <text x={177} y={283} textAnchor="middle" fontSize={14} fontWeight="bold">Fold change (log2)</text>
        <text x={177} y={919} textAnchor="middle" fontSize={14} fontWeight="bold">Fold change (log2)</text>

        {/* C legend */}
        <text x={235} y={363} fontSize={12} fontWeight="bold">GO term</text>
        <line x1={235} y1={366.5} x2={338} y2={366.5} stroke="#333" strokeWidth={1} />
        <circle cx={225} cy={376} r={5} fill="#ff0000" />
        <text x={236} y={380} fontSize={11.5}>Regulation of dendrite</text>
        <text x={236} y={393} fontSize={11.5}>development</text>
        <circle cx={225} cy={407} r={5} fill="#a9d9a0" />
        <text x={236} y={411} fontSize={11.5}>Cognition</text>
        <circle cx={225} cy={428} r={5} fill="#0a6ebd" />
        <text x={236} y={432} fontSize={11.5}>Modulation of chemical</text>
        <text x={236} y={453} fontSize={11.5}>synaptic transmission</text>
        <text x={249} y={594} fontSize={9}>PPI enrichment p &lt; 0.0001</text>

        {/* G legend */}
        <text x={263} y={993} fontSize={11.5} fontWeight="bold">GO term</text>
        <line x1={263} y1={999} x2={341} y2={999} stroke="#333" strokeWidth={1} />
        <circle cx={253} cy={1012} r={5} fill="#ffff00" />
        <text x={262} y={1016} fontSize={11}>Synaptic vesicle cycle</text>
        <circle cx={253} cy={1026} r={5} fill="#ff0000" />
        <text x={262} y={1030} fontSize={11}>Postsynaptic actin</text>
        <text x={262} y={1045} fontSize={11}>cytoskeleton organization</text>
        <circle cx={253} cy={1060} r={5} fill="#a9d9a0" />
        <text x={262} y={1064} fontSize={11}>Actin filament capping</text>
        <circle cx={253} cy={1077} r={5} fill="#0a6ebd" />
        <text x={262} y={1081} fontSize={11}>Negative regulation of actin</text>
        <text x={262} y={1095} fontSize={11}>filament depolymerization</text>
        <text x={240} y={1171} fontSize={9}>PPI enrichment p &lt; 0.0001</text>

        {/* D header */}
        <text x={516} y={339} textAnchor="middle" fontSize={14}>AAV-GFAP</text>
        <text x={516} y={355} textAnchor="middle" fontSize={14}>Mock</text>
        <text x={594} y={339} textAnchor="middle" fontSize={14}>AAV-GFAP</text>
        <text x={594} y={355} textAnchor="middle" fontSize={14}>Hevin</text>
        <line x1={482} y1={359} x2={552} y2={359} stroke="#333" strokeWidth={1.2} />
        <line x1={557} y1={359} x2={615} y2={359} stroke="#333" strokeWidth={1.2} />

        {/* H header */}
        <text x={546} y={948} textAnchor="middle" fontSize={14}>AAV-GFAP</text>
        <text x={546} y={964} textAnchor="middle" fontSize={14}>Mock</text>
        <text x={625} y={948} textAnchor="middle" fontSize={14}>AAV-GFAP</text>
        <text x={625} y={964} textAnchor="middle" fontSize={14}>Hevin</text>
        <line x1={521} y1={969} x2={578} y2={969} stroke="#333" strokeWidth={1.2} />
        <line x1={587} y1={969} x2={639} y2={969} stroke="#333" strokeWidth={1.2} />
      </svg>
    </div>
  );
}
